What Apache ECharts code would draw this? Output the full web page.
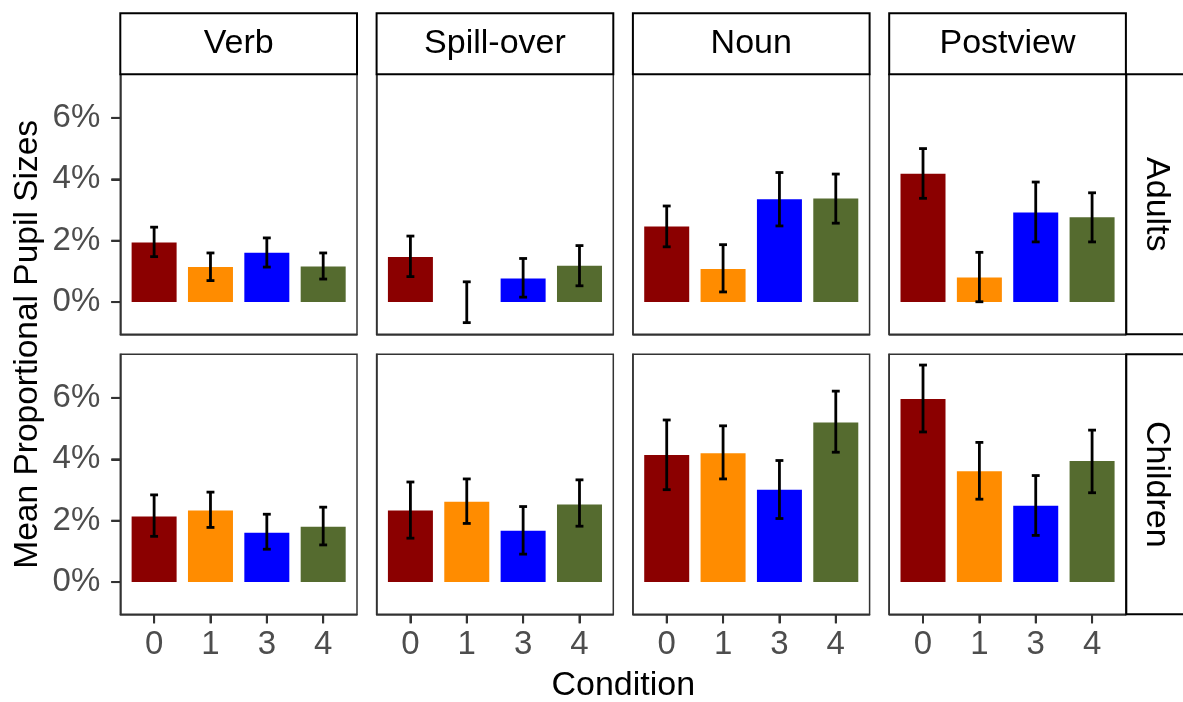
<!DOCTYPE html>
<html>
<head>
<meta charset="utf-8">
<script src="https://cdn.jsdelivr.net/npm/echarts@6/dist/echarts.min.js"></script>
<style>
  html, body { margin: 0; padding: 0; background: #fff; }
  #chart { width: 1183px; height: 702px; }
</style>
</head>
<body>
<div id="chart"></div>
<script>
// data (values in %)
const conditions = ['0', '1', '3', '4'];
const regions = ['Verb', 'Spill-over', 'Noun', 'Postview'];
const groups = ['Adults', 'Children'];
const barColors = ['#8B0000', '#FF8C00', '#0000FF', '#556B2F'];
const yTicks = [0, 2, 4, 6];

// one row per region, one value per condition
const adultsMean = [
    [1.94, 1.14, 1.61, 1.16],
    [1.47, 0, 0.77, 1.18],
    [2.46, 1.08, 3.35, 3.37],
    [4.18, 0.80, 2.92, 2.76]
];
const adultsLow = [
    [1.48, 0.70, 1.14, 0.75],
    [0.83, -0.67, 0.16, 0.53],
    [1.80, 0.33, 2.48, 2.57],
    [3.38, 0.01, 1.96, 1.96]
];
const adultsHigh = [
    [2.44, 1.60, 2.09, 1.60],
    [2.15, 0.66, 1.42, 1.84],
    [3.13, 1.87, 4.22, 4.17],
    [5.00, 1.62, 3.91, 3.56]
];
const childrenMean = [
    [2.14, 2.33, 1.61, 1.80],
    [2.33, 2.62, 1.67, 2.53],
    [4.14, 4.20, 3.01, 5.20],
    [5.96, 3.61, 2.49, 3.94]
];
const childrenLow = [
    [1.49, 1.78, 1.07, 1.21],
    [1.43, 1.91, 0.91, 1.82],
    [3.01, 3.36, 2.07, 4.23],
    [4.89, 2.70, 1.52, 2.91]
];
const childrenHigh = [
    [2.84, 2.93, 2.21, 2.44],
    [3.26, 3.36, 2.46, 3.33],
    [5.28, 5.09, 3.96, 6.22],
    [7.07, 4.55, 3.47, 4.95]
];

const means = [adultsMean, childrenMean];
const lows = [adultsLow, childrenLow];
const highs = [adultsHigh, childrenHigh];

// panel layout
const panelLeft = 120.3, panelStep = 256.3, panelW = 236.7, panelH = 260;
const rowTops = [74.3, 354.3];
const stripTop = 13.3;
const stripRight = 1126.3;
const xMin = 0.4, xMax = 4.6, yMin = -1.05, yMax = 7.42;
const tickLen = 9;

const font = 'Liberation Sans, Arial, sans-serif';

const grids = [], xAxes = [], yAxes = [], series = [], graphics = [];

groups.forEach(function (g, r) {
    regions.forEach(function (reg, c) {
        const idx = r * regions.length + c;
        grids.push({
            left: panelLeft + c * panelStep,
            top: rowTops[r],
            width: panelW,
            height: panelH,
            show: true,
            borderColor: '#333',
            borderWidth: 1.5
        });
        xAxes.push({
            type: 'value', gridIndex: idx, min: xMin, max: xMax,
            axisLine: { show: true, onZero: false, lineStyle: { color: '#333', width: 1.5 } },
            splitLine: { show: false },
            axisTick: {
                show: true, customValues: [1, 2, 3, 4], length: tickLen,
                lineStyle: { color: r === 1 ? '#333' : 'rgba(0,0,0,0)', width: 2 }
            },
            axisLabel: {
                show: r === 1, customValues: [1, 2, 3, 4],
                formatter: function (v) { return conditions[Math.round(v) - 1]; },
                fontSize: 33, color: '#4D4D4D', fontFamily: font, margin: 14
            }
        });
        yAxes.push({
            type: 'value', gridIndex: idx, min: yMin, max: yMax,
            axisLine: { show: true, onZero: false, lineStyle: { color: '#333', width: 1.5 } },
            splitLine: { show: false },
            axisTick: {
                show: true, customValues: yTicks, length: tickLen,
                lineStyle: { color: c === 0 ? '#333' : 'rgba(0,0,0,0)', width: 2 }
            },
            axisLabel: {
                show: c === 0, customValues: yTicks,
                formatter: function (v) { return v + '%'; },
                fontSize: 33, color: '#4D4D4D', fontFamily: font, margin: 20
            }
        });

        series.push({
            type: 'bar',
            xAxisIndex: idx, yAxisIndex: idx,
            barWidth: 45,
            data: means[r][c].map(function (v, k) {
                return { value: [k + 1, v], itemStyle: { color: barColors[k] } };
            })
        });
        series.push({
            type: 'custom',
            xAxisIndex: idx, yAxisIndex: idx,
            data: means[r][c].map(function (v, k) {
                return [k + 1, lows[r][c][k], highs[r][c][k]];
            }),
            renderItem: function (params, api) {
                const x = api.value(0);
                const lo = api.coord([x, api.value(1)]);
                const hi = api.coord([x, api.value(2)]);
                const half = api.size([0.07, 0])[0];
                const st = { stroke: '#000', lineWidth: 2.8 };
                return {
                    type: 'group',
                    children: [
                        { type: 'line', shape: { x1: lo[0], y1: lo[1], x2: hi[0], y2: hi[1] }, style: st },
                        { type: 'line', shape: { x1: lo[0] - half, y1: lo[1], x2: lo[0] + half, y2: lo[1] }, style: st },
                        { type: 'line', shape: { x1: hi[0] - half, y1: hi[1], x2: hi[0] + half, y2: hi[1] }, style: st }
                    ]
                };
            },
            z: 5
        });
    });
});

// facet strips on top
regions.forEach(function (reg, c) {
    const x = panelLeft + c * panelStep;
    graphics.push({
        type: 'rect', z: 10,
        shape: { x: x, y: stripTop, width: panelW, height: rowTops[0] - stripTop },
        style: { fill: '#fff', stroke: '#000', lineWidth: 2 }
    });
    graphics.push({
        type: 'text', z: 11,
        x: x + panelW / 2, y: (stripTop + rowTops[0]) / 2,
        style: { text: reg, fill: '#000', fontSize: 34, fontFamily: font, align: 'center', verticalAlign: 'middle' }
    });
});
// facet strips on the right
groups.forEach(function (g, r) {
    graphics.push({
        type: 'rect', z: 10,
        shape: { x: stripRight, y: rowTops[r], width: 80, height: panelH },
        style: { fill: '#fff', stroke: '#000', lineWidth: 2 }
    });
    graphics.push({
        type: 'text', z: 11,
        x: stripRight + 30, y: rowTops[r] + panelH / 2,
        rotation: -Math.PI / 2,
        style: { text: g, fill: '#000', fontSize: 34, fontFamily: font, align: 'center', verticalAlign: 'middle' }
    });
});
// axis titles
graphics.push({
    type: 'text', z: 11,
    x: 623.3, y: 686,
    style: { text: 'Condition', fill: '#000', fontSize: 34, fontFamily: font, align: 'center', verticalAlign: 'middle' }
});
graphics.push({
    type: 'text', z: 11,
    x: 28, y: 344.3,
    rotation: Math.PI / 2,
    style: { text: 'Mean Proportional Pupil Sizes', fill: '#000', fontSize: 33.5, fontFamily: font, align: 'center', verticalAlign: 'middle' }
});

const chart = echarts.init(document.getElementById('chart'));
chart.setOption({
    backgroundColor: '#fff',
    animation: false,
    grid: grids,
    xAxis: xAxes,
    yAxis: yAxes,
    series: series,
    graphic: graphics
});

// outer tick marks, positioned through each panel's own scales
const tickStyle = { stroke: '#333', lineWidth: 2 };
regions.forEach(function (reg, c) {
    const idx = regions.length + c; // bottom row
    conditions.forEach(function (lab, k) {
        const p = chart.convertToPixel({ gridIndex: idx }, [k + 1, yMin]);
        graphics.push({
            type: 'line', z: 100,
            shape: { x1: p[0], y1: p[1], x2: p[0], y2: p[1] + tickLen },
            style: tickStyle
        });
    });
});
groups.forEach(function (g, r) {
    const idx = r * regions.length; // left column
    yTicks.forEach(function (v) {
        const p = chart.convertToPixel({ gridIndex: idx }, [xMin, v]);
        graphics.push({
            type: 'line', z: 100,
            shape: { x1: p[0] - tickLen, y1: p[1], x2: p[0], y2: p[1] },
            style: tickStyle
        });
    });
});
chart.setOption({ graphic: graphics });
</script>
</body>
</html>
